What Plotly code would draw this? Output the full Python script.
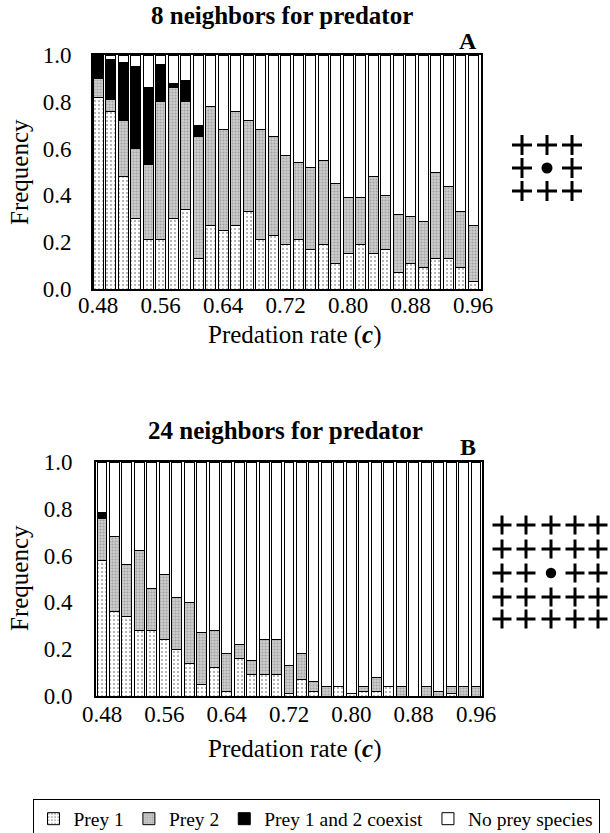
import plotly.graph_objects as go

# ---------------- data ----------------
rate = [0.480, 0.496, 0.512, 0.528, 0.544, 0.560, 0.576, 0.592, 0.608, 0.624,
        0.640, 0.656, 0.672, 0.688, 0.704, 0.720, 0.736, 0.752, 0.768, 0.784,
        0.800, 0.816, 0.832, 0.848, 0.864, 0.880, 0.896, 0.912, 0.928, 0.944, 0.960]
x_tick_vals = [0.48, 0.56, 0.64, 0.72, 0.80, 0.88, 0.96]
x_tick_text = ["0.48", "0.56", "0.64", "0.72", "0.80", "0.88", "0.96"]
y_tick_vals = [0.0, 0.2, 0.4, 0.6, 0.8, 1.0]
y_tick_text = ["0.0", "0.2", "0.4", "0.6", "0.8", "1.0"]

# Panel A: 8 neighbors for predator
prey1_a = [0.82, 0.76, 0.48, 0.30, 0.21, 0.21, 0.30, 0.34, 0.13, 0.27,
           0.25, 0.27, 0.33, 0.21, 0.23, 0.19, 0.21, 0.17, 0.19, 0.11,
           0.15, 0.19, 0.15, 0.17, 0.07, 0.11, 0.09, 0.13, 0.13, 0.09, 0.03]
prey2_a = [0.08, 0.05, 0.24, 0.30, 0.32, 0.59, 0.56, 0.46, 0.52, 0.51,
           0.43, 0.49, 0.39, 0.47, 0.42, 0.38, 0.33, 0.35, 0.36, 0.34,
           0.24, 0.20, 0.33, 0.23, 0.25, 0.20, 0.20, 0.37, 0.31, 0.24, 0.24]
coexist_a = [0.10, 0.17, 0.25, 0.35, 0.33, 0.16, 0.02, 0.09, 0.05, 0.0,
             0.0, 0.0, 0.0, 0.0, 0.0, 0.0, 0.0, 0.0, 0.0, 0.0,
             0.0, 0.0, 0.0, 0.0, 0.0, 0.0, 0.0, 0.0, 0.0, 0.0, 0.0]

# Panel B: 24 neighbors for predator
prey1_b = [0.58, 0.36, 0.34, 0.28, 0.28, 0.24, 0.20, 0.14, 0.05, 0.12,
           0.02, 0.16, 0.09, 0.09, 0.09, 0.01, 0.07, 0.02, 0.0, 0.04,
           0.01, 0.02, 0.02, 0.04, 0.0, 0.0, 0.0, 0.0, 0.01, 0.0, 0.0]
prey2_b = [0.18, 0.32, 0.22, 0.34, 0.18, 0.28, 0.22, 0.26, 0.22, 0.16,
           0.16, 0.06, 0.06, 0.15, 0.15, 0.12, 0.11, 0.04, 0.04, 0.0,
           0.0, 0.02, 0.06, 0.0, 0.04, 0.0, 0.04, 0.02, 0.03, 0.04, 0.04]
coexist_b = [0.025, 0.0, 0.0, 0.0, 0.0, 0.0, 0.0, 0.0, 0.0, 0.0,
             0.0, 0.0, 0.0, 0.0, 0.0, 0.0, 0.0, 0.0, 0.0, 0.0,
             0.0, 0.0, 0.0, 0.0, 0.0, 0.0, 0.0, 0.0, 0.0, 0.0, 0.0]

series_names = ["Prey 1", "Prey 2", "Prey 1 and 2 coexist", "No prey species"]

# ---------------- layout helpers (paper = whole figure) ----------------
W, H = 610, 833


def px(x):
    return x / W


def py(y):
    return 1 - y / H


FONT = "Liberation Serif"

styles = [
    dict(color="white", line=dict(color="black", width=1),
         pattern=dict(shape=".", fgcolor="#4a4a4a", bgcolor="white", size=4, solidity=0.22)),
    dict(color="#c4c4c4", line=dict(color="black", width=1),
         pattern=dict(shape=".", fgcolor="#7a7a7a", bgcolor="#cdcdcd", size=3, solidity=0.4)),
    dict(color="black", line=dict(color="black", width=1)),
    dict(color="white", line=dict(color="black", width=1)),
]

fig = go.Figure()


def add_panel(p1, p2, co, xa, ya, show):
    none = [max(0.0, 1.0 - a - b - c) for a, b, c in zip(p1, p2, co)]
    for name, vals, st in zip(series_names, [p1, p2, co, none], styles):
        fig.add_trace(go.Bar(x=rate, y=vals, name=name, marker=st,
                             xaxis=xa, yaxis=ya, showlegend=show,
                             legendgroup=name, hoverinfo="skip"))


add_panel(prey1_a, prey2_a, coexist_a, "x", "y", True)
add_panel(prey1_b, prey2_b, coexist_b, "x2", "y2", False)

axis_common = dict(showgrid=False, zeroline=False, showline=True, linecolor="black",
                   linewidth=2, mirror=True, ticks="", automargin=False,
                   tickfont=dict(family=FONT, size=23, color="black"))

fig.update_layout(
    width=W, height=H,
    margin=dict(l=0, r=0, t=0, b=0, autoexpand=False),
    paper_bgcolor="white", plot_bgcolor="white",
    barmode="stack", bargap=0.2,
    font=dict(family=FONT, color="black"),
    xaxis=dict(domain=[px(93), px(481)], range=[0.4736, 0.9702],
               tickvals=x_tick_vals, ticktext=x_tick_text, anchor="y",
               ticklabelstandoff=-6, **axis_common),
    yaxis=dict(domain=[py(289), py(55)], range=[0, 1.0], anchor="x",
               tickvals=y_tick_vals, ticktext=y_tick_text,
               ticklabelstandoff=15, **axis_common),
    xaxis2=dict(domain=[px(96), px(482)], range=[0.4723, 0.9677],
                tickvals=x_tick_vals, ticktext=x_tick_text, anchor="y2",
                ticklabelstandoff=-4, **axis_common),
    yaxis2=dict(domain=[py(696), py(462)], range=[0, 1.0], anchor="x2",
                tickvals=y_tick_vals, ticktext=y_tick_text,
                ticklabelstandoff=17, **axis_common),
    legend=dict(orientation="h", x=px(316), xanchor="center",
                y=py(819), yanchor="middle",
                bordercolor="black", borderwidth=1, bgcolor="white",
                font=dict(family=FONT, size=19.5, color="black"),
                itemwidth=30, tracegroupgap=0, traceorder="normal"),
)

annotations = []


def ann(text, x, y, size, angle=0, xanchor="center"):
    annotations.append(dict(text=text, x=px(x), y=py(y), xref="paper", yref="paper",
                            showarrow=False, textangle=angle, xanchor=xanchor, yanchor="middle",
                            font=dict(family=FONT, size=size, color="black")))


ann("<b>8 neighbors for predator</b>", 282, 16, 25)
ann("<b>24 neighbors for predator</b>", 285, 431, 25)
ann("<b>A</b>", 468, 41, 24)
ann("<b>B</b>", 468, 447, 24)
ann("Frequency", 19, 172, 25, angle=-90)
ann("Frequency", 19, 578, 25, angle=-90)
ann("Predation rate (<b><i>c</i></b>)", 295, 335, 25)
ann("Predation rate (<b><i>c</i></b>)", 295, 749, 25)
fig.update_layout(annotations=annotations)

# neighborhood icons: crosses with central predator dot
shapes = []


def neighborhood(cx_list, cy_list, half, width):
    mid_i = len(cx_list) // 2
    for j, cy in enumerate(cy_list):
        for i, cx in enumerate(cx_list):
            if i == mid_i and j == mid_i:
                r = half * 0.55
                shapes.append(dict(type="circle", xref="paper", yref="paper",
                                   x0=px(cx - r), x1=px(cx + r), y0=py(cy + r), y1=py(cy - r),
                                   fillcolor="black", line=dict(color="black", width=0)))
            else:
                shapes.append(dict(type="line", xref="paper", yref="paper",
                                   x0=px(cx - half), x1=px(cx + half), y0=py(cy), y1=py(cy),
                                   line=dict(color="black", width=width)))
                shapes.append(dict(type="line", xref="paper", yref="paper",
                                   x0=px(cx), x1=px(cx), y0=py(cy - half), y1=py(cy + half),
                                   line=dict(color="black", width=width)))


neighborhood([522, 547, 572], [145, 168, 191], 10, 3)
neighborhood([502, 526, 551, 575, 598], [525, 549, 573, 597, 619], 9.5, 3)
fig.update_layout(shapes=shapes)

fig.write_html("out.html",
               config={"displayModeBar": False},
               post_script="document.body.style.margin='0px';"
                           "document.body.style.overflow='hidden';")
